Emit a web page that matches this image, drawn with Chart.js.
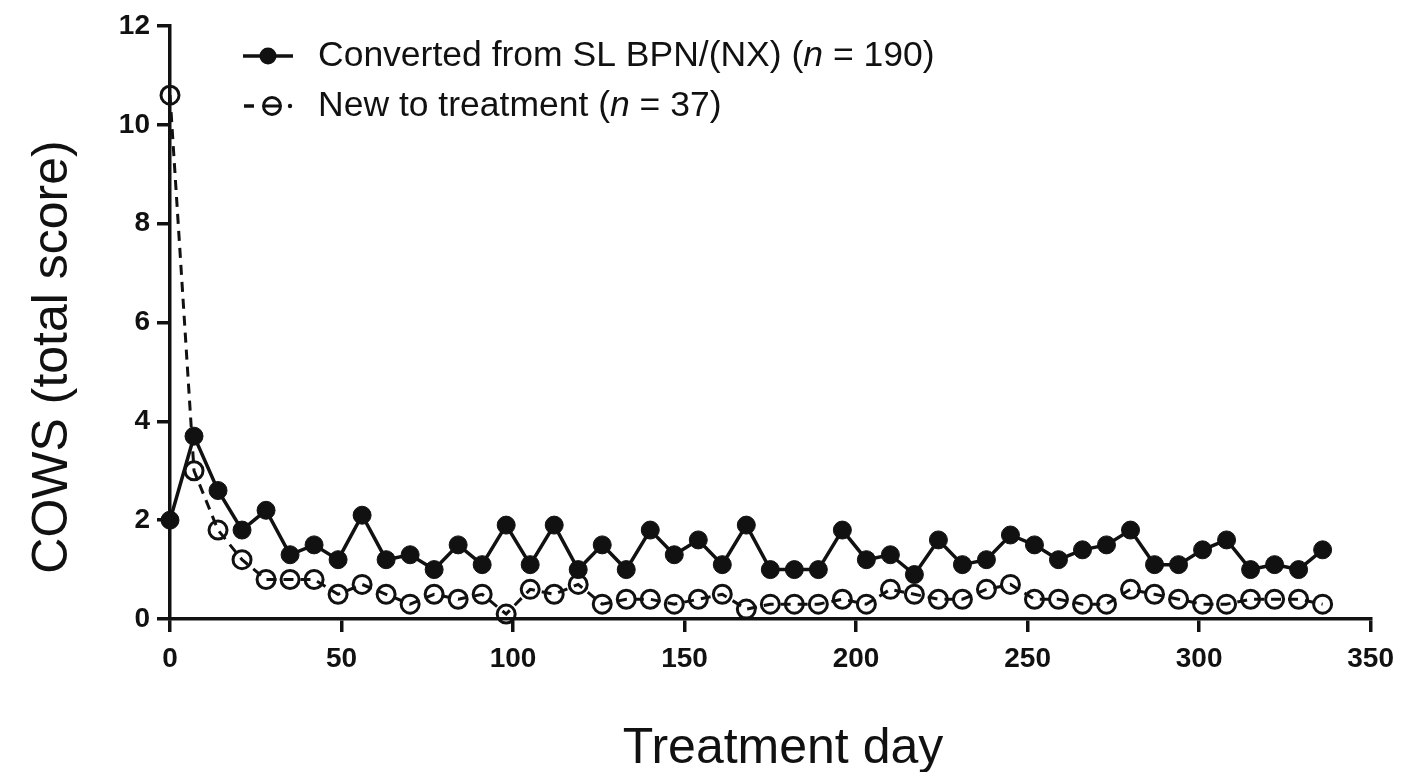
<!DOCTYPE html>
<html><head><meta charset="utf-8">
<script src="https://cdn.jsdelivr.net/npm/chart.js@4/dist/chart.umd.min.js"></script>
<style>html,body{margin:0;padding:0;background:#fff}#wrap{width:1404px;height:772px}</style>
</head><body><div id="wrap"><canvas id="c" width="1404" height="772"></canvas></div>
<script>
const days = [0,7,14,21,28,35,42,49,56,63,70,77,84,91,98,105,112,119,126,133,140,147,154,161,168,175,182,189,196,203,210,217,224,231,238,245,252,259,266,273,280,287,294,301,308,315,322,329,336];
const converted = [2.0,3.7,2.6,1.8,2.2,1.3,1.5,1.2,2.1,1.2,1.3,1.0,1.5,1.1,1.9,1.1,1.9,1.0,1.5,1.0,1.8,1.3,1.6,1.1,1.9,1.0,1.0,1.0,1.8,1.2,1.3,0.9,1.6,1.1,1.2,1.7,1.5,1.2,1.4,1.5,1.8,1.1,1.1,1.4,1.6,1.0,1.1,1.0,1.4];
const newTreat = [10.6,3.0,1.8,1.2,0.8,0.8,0.8,0.5,0.7,0.5,0.3,0.5,0.4,0.5,0.1,0.6,0.5,0.7,0.3,0.4,0.4,0.3,0.4,0.5,0.2,0.3,0.3,0.3,0.4,0.3,0.6,0.5,0.4,0.4,0.6,0.7,0.4,0.4,0.3,0.3,0.6,0.5,0.4,0.3,0.3,0.4,0.4,0.4,0.3];
const xTicks = [0,50,100,150,200,250,300,350];
const yTicks = [0,2,4,6,8,10,12];
const seriesNames = ["Converted from SL BPN/(NX) (", "New to treatment ("];
const seriesN = [" = 190)", " = 37)"];
const xTitle = "Treatment day";
const yTitle = "COWS (total score)";

const FONT = '"Liberation Sans", Arial, Helvetica, sans-serif';
const INK = '#111';

const overlay = {
  id: 'overlay',
  afterDraw(chart) {
    const ctx = chart.ctx;
    ctx.save();
    ctx.fillStyle = INK;
    // axis titles
    ctx.font = '50px ' + FONT;
    ctx.textAlign = 'center';
    ctx.textBaseline = 'alphabetic';
    ctx.fillText(xTitle, 783, 763);
    ctx.save();
    ctx.translate(67, 357);
    ctx.rotate(-Math.PI / 2);
    ctx.fillText(yTitle, 0, 0);
    ctx.restore();

    // legend
    ctx.strokeStyle = INK;
    const y1 = 56, y2 = 106;
    ctx.lineWidth = 3.5;
    ctx.beginPath(); ctx.moveTo(243, y1); ctx.lineTo(293, y1); ctx.stroke();
    ctx.beginPath(); ctx.arc(268, y1, 8.5, 0, Math.PI * 2); ctx.fill();
    ctx.lineWidth = 3.5;
    ctx.beginPath(); ctx.moveTo(244, y2); ctx.lineTo(254, y2); ctx.stroke();
    ctx.lineWidth = 3;
    ctx.beginPath(); ctx.arc(272, y2, 8.5, 0, Math.PI * 2); ctx.stroke();
    ctx.beginPath(); ctx.moveTo(265, y2); ctx.lineTo(279, y2); ctx.stroke();
    ctx.beginPath(); ctx.arc(290, y2, 2.2, 0, Math.PI * 2); ctx.fill();

    ctx.textAlign = 'left';
    ctx.textBaseline = 'middle';
    [y1, y2].forEach((yy, i) => {
      let x = 318;
      ctx.font = '35.5px ' + FONT;
      ctx.fillText(seriesNames[i], x, yy);
      x += ctx.measureText(seriesNames[i]).width;
      ctx.font = 'italic 35.5px ' + FONT;
      ctx.fillText('n', x, yy);
      x += ctx.measureText('n').width;
      ctx.font = '35.5px ' + FONT;
      ctx.fillText(seriesN[i], x, yy);
    });
    ctx.restore();
  }
};

const axisCommon = {
  type: 'linear',
  grid: { display: true, drawOnChartArea: false, drawTicks: true, tickLength: 13, color: INK, lineWidth: 3.5 },
  border: { display: true, color: INK, width: 3.5 },
};

new Chart(document.getElementById('c'), {
  type: 'line',
  data: {
    datasets: [
      {
        label: seriesNames[0] + 'n' + seriesN[0],
        data: days.map((d, i) => ({ x: d, y: converted[i] })),
        borderColor: INK, borderWidth: 3.5,
        pointRadius: 9, pointBackgroundColor: INK, pointBorderColor: INK, pointBorderWidth: 1,
        tension: 0, clip: false, order: 0
      },
      {
        label: seriesNames[1] + 'n' + seriesN[1],
        data: days.map((d, i) => ({ x: d, y: newTreat[i] })),
        borderColor: INK, borderWidth: 3, borderDash: [10, 7],
        pointRadius: 9, pointBackgroundColor: 'rgba(255,255,255,0)', pointBorderColor: INK, pointBorderWidth: 3,
        tension: 0, clip: false, order: 1
      }
    ]
  },
  options: {
    responsive: false,
    animation: false,
    layout: { padding: { top: 26, right: 27, left: 0, bottom: 0 } },
    plugins: { legend: { display: false }, tooltip: { enabled: false } },
    scales: {
      x: Object.assign({}, axisCommon, {
        min: 0, max: 350,
        afterBuildTicks: s => { s.ticks = xTicks.map(v => ({ value: v })); },
        ticks: { autoSkip: false, maxRotation: 0, padding: 10, color: INK, font: { family: FONT, size: 28, weight: 'bold' } },
        afterFit: s => { s.height = 153; }
      }),
      y: Object.assign({}, axisCommon, {
        min: 0, max: 12,
        afterBuildTicks: s => { s.ticks = yTicks.map(v => ({ value: v })); },
        ticks: { autoSkip: false, padding: 7, color: INK, font: { family: FONT, size: 28, weight: 'bold' } },
        afterFit: s => { s.width = 170; }
      })
    }
  },
  plugins: [overlay]
});
</script>
</body></html>
